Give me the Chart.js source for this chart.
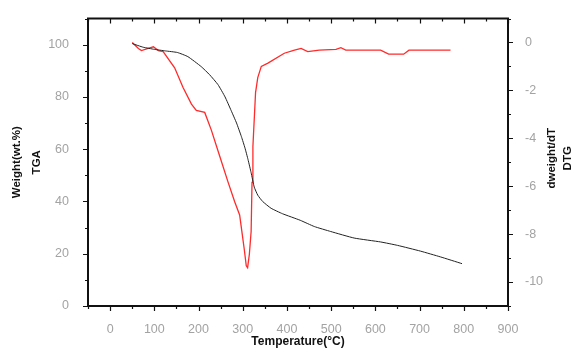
<!DOCTYPE html>
<html>
<head>
<meta charset="utf-8">
<script src="https://cdn.jsdelivr.net/npm/chart.js@4"></script>
<style>
	html, body { margin: 0; padding: 0; background: #fff; }
	#wrap { width: 574px; height: 349px; }
</style>
</head>
<body>
<div id="wrap"><canvas id="chart" width="574" height="349"></canvas></div>
<script>
// TGA curve (left axis, wt.%)
const tgaTemp = [50, 75, 100, 125, 152, 176, 206, 225, 244, 260, 274, 286, 297, 305, 312, 319, 326, 334, 345, 364, 390, 430, 462, 499, 552, 612, 650, 702, 747, 796];
const tgaWeight = [100.4, 99, 98.2, 97.6, 97, 95.4, 91.6, 88.5, 84.7, 80, 74.7, 70, 64.8, 60.5, 56, 51, 45.5, 42.4, 40, 37.4, 35.3, 32.8, 30.4, 28.5, 26, 24.5, 23.2, 21, 18.8, 16.2];

// DTG curve (right axis, dweight/dT)
const dtgTemp = [50, 64, 71, 86, 98, 109, 120, 146, 165, 184, 195, 214, 229, 248, 267, 282, 293, 297, 303, 308, 311, 315, 319, 321, 323, 329, 334, 342, 357, 394, 417, 432, 447, 473, 511, 522, 533, 612, 630, 664, 676, 770];
const dtgRate = [0, -0.25, -0.34, -0.25, -0.18, -0.34, -0.38, -1.06, -1.88, -2.57, -2.84, -2.92, -3.66, -4.75, -5.84, -6.66, -7.2, -7.75, -8.57, -9.32, -9.4, -8.84, -7.88, -5.84, -4.34, -2.09, -1.47, -1.0, -0.86, -0.45, -0.32, -0.25, -0.38, -0.32, -0.29, -0.22, -0.32, -0.32, -0.49, -0.49, -0.32, -0.32];

const tickFont = { family: 'Liberation Sans', size: 12.5 };
const tickGrey = '#a3a3a3';

let toPoints = (xs, ys) => xs.map((x, i) => ({ x: x, y: ys[i] }));

// frame, tick marks and axis titles
const framePlugin = {
	id: 'frame',
	afterDraw(chart) {
		let c = chart.ctx;
		let a = chart.chartArea;
		let sx = chart.scales.x, sy = chart.scales.y, sy2 = chart.scales.y2;
		c.save();
		c.strokeStyle = '#111';
		c.lineWidth = 2;
		c.beginPath();
		c.moveTo(a.left - 1, a.top);
		c.lineTo(a.right + 1, a.top);
		c.stroke();
		c.lineWidth = 1.2;
		c.beginPath();
		for (let t of sx.ticks) {
			let px = Math.round(sx.getPixelForValue(t.value)) + 0.5;
			let len = t.value % 100 === 0 ? 5 : 3;
			c.moveTo(px, a.bottom);
			c.lineTo(px, a.bottom + len);
			c.moveTo(px, a.top);
			c.lineTo(px, a.top + len);
		}
		for (let t of sy.ticks) {
			let py = Math.round(sy.getPixelForValue(t.value)) + 0.5;
			let len = t.value % 20 === 0 ? 5 : 3;
			c.moveTo(a.left, py);
			c.lineTo(a.left - len, py);
		}
		for (let t of sy2.ticks) {
			let py = Math.round(sy2.getPixelForValue(t.value)) + 0.5;
			let len = t.value % 2 === 0 ? 5 : 3;
			c.moveTo(a.right, py);
			c.lineTo(a.right + len, py);
		}
		c.stroke();

		let midY = (a.top + a.bottom) / 2;
		c.fillStyle = '#111';
		c.font = 'bold 11.5px "Liberation Sans"';
		c.textAlign = 'center';
		c.textBaseline = 'middle';
		let vtext = (txt, x, y) => {
			c.save();
			c.translate(x, y);
			c.rotate(-Math.PI / 2);
			c.fillText(txt, 0, 0);
			c.restore();
		};
		vtext('Weight(wt.%)', 17, midY);
		vtext('TGA', 37, midY);
		vtext('dweight/dT', 552, midY - 4);
		vtext('DTG', 568, midY - 4);
		c.font = 'bold 12px "Liberation Sans"';
		c.fillText('Temperature(°C)', (a.left + a.right) / 2, 342);
		c.restore();
	}
};

new Chart(document.getElementById('chart'), {
	type: 'line',
	data: {
		datasets: [{
			label: 'TGA',
			data: toPoints(tgaTemp, tgaWeight),
			yAxisID: 'y',
			borderColor: '#222',
			borderWidth: 1,
			pointRadius: 0,
			tension: 0.15
		}, {
			label: 'DTG',
			data: toPoints(dtgTemp, dtgRate),
			yAxisID: 'y2',
			borderColor: '#ff2a2a',
			borderWidth: 1.3,
			pointRadius: 0,
			tension: 0
		}]
	},
	options: {
		responsive: false,
		animation: false,
		layout: { padding: { top: 14, left: 0, right: 0, bottom: 0 } },
		plugins: { legend: { display: false }, tooltip: { enabled: false } },
		scales: {
			x: {
				type: 'linear',
				min: -50, max: 900,
				grid: { display: false },
				border: { display: true, color: '#111', width: 2 },
				ticks: {
					stepSize: 50,
					padding: 8,
					color: tickGrey,
					font: tickFont,
					maxRotation: 0,
					autoSkip: false,
					callback: (v) => v % 100 === 0 ? v : ''
				},
				afterFit: (s) => { s.height = 43; }
			},
			y: {
				position: 'left',
				min: 0, max: 110,
				grid: { display: false },
				border: { display: true, color: '#111', width: 2 },
				ticks: {
					stepSize: 10,
					padding: 11,
					color: tickGrey,
					font: tickFont,
					autoSkip: false,
					callback: (v) => v % 20 === 0 ? v : ''
				},
				afterFit: (s) => { s.width = 88; }
			},
			y2: {
				position: 'right',
				min: -11, max: 1,
				grid: { display: false },
				border: { display: true, color: '#111', width: 2 },
				ticks: {
					stepSize: 1,
					padding: 9,
					color: tickGrey,
					font: tickFont,
					autoSkip: false,
					callback: (v) => v % 2 === 0 ? v : ''
				},
				afterFit: (s) => { s.width = 66; }
			}
		}
	},
	plugins: [framePlugin]
});
</script>
</body>
</html>
